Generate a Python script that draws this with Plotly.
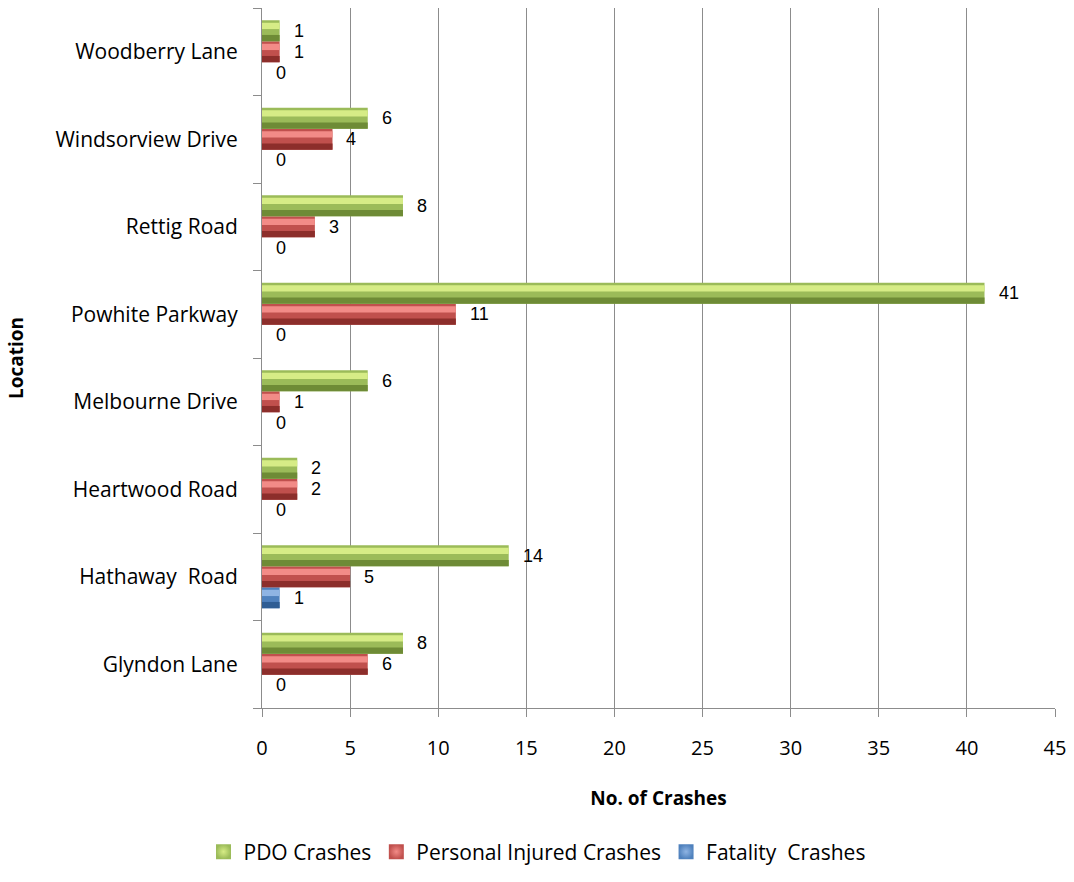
import plotly.graph_objects as go

# Crash counts by location (bottom to top on the y axis)
locations = ["Glyndon Lane", "Hathaway  Road", "Heartwood Road", "Melbourne Drive",
             "Powhite Parkway", "Rettig Road", "Windsorview Drive", "Woodberry Lane"]
pdo_crashes = [8, 14, 2, 6, 41, 8, 6, 1]
injury_crashes = [6, 5, 2, 1, 11, 3, 4, 1]
fatality_crashes = [0, 1, 0, 0, 0, 0, 0, 0]

series = [
    # name, values, mid colour, highlight, shadow, offset within category
    ("Fatality  Crashes", fatality_crashes, "#4f81bd", "#8fb4e3", "#2f5d94", -0.36),
    ("Personal Injured Crashes", injury_crashes, "#c0504d", "#f28b87", "#8c2e2b", -0.12),
    ("PDO Crashes", pdo_crashes, "#9bbb59", "#d6ec86", "#6e8b36", 0.12),
]
bar_w = 0.24
font_family = "Open Sans, Noto Sans, sans-serif"
label_family = "Liberation Sans, Arial, sans-serif"

fig = go.Figure()
annotations = []
for rank, (name, vals, mid, hi, lo, off) in enumerate(series):
    # main body of the bar
    fig.add_trace(go.Bar(
        name=name, x=vals, y=locations, orientation="h",
        width=bar_w, offset=off,
        marker=dict(color=mid, line=dict(width=0)),
        showlegend=False,
    ))
    # lower shading strip
    fig.add_trace(go.Bar(
        x=vals, y=locations, orientation="h",
        width=bar_w * 0.3, offset=off,
        marker=dict(color=lo, line=dict(width=0)),
        showlegend=False, hoverinfo="skip",
    ))
    # upper highlight strip
    fig.add_trace(go.Bar(
        x=vals, y=locations, orientation="h",
        width=bar_w * 0.3, offset=off + bar_w * 0.58,
        marker=dict(color=hi, line=dict(width=0)),
        showlegend=False, hoverinfo="skip",
    ))
    # shaded square legend key for the series
    fig.add_trace(go.Scatter(
        name=name, x=[None], y=[None], mode="markers",
        marker=dict(symbol="square", size=15, color=mid,
                    gradient=dict(type="radial", color=hi),
                    line=dict(width=0)),
        legendrank=3 - rank,
    ))
    # value labels to the right of each bar
    for i, v in enumerate(vals):
        annotations.append(dict(
            x=v, y=i + off + bar_w / 2, xref="x", yref="y",
            text=str(v), showarrow=False, xanchor="left", yanchor="middle",
            xshift=13, borderpad=0,
            font=dict(size=18, color="#000000", family=label_family),
        ))

fig.update_layout(
    barmode="overlay",
    width=1074, height=882,
    margin=dict(l=262, r=17, t=8, b=174),
    paper_bgcolor="white", plot_bgcolor="white",
    font=dict(family=font_family, color="#000000"),
    annotations=annotations,
    legend=dict(
        orientation="h", xref="container", x=0.5, xanchor="center",
        yref="container", y=1 - 852 / 882, yanchor="middle",
        font=dict(size=21), traceorder="normal",
    ),
    xaxis=dict(
        range=[0, 45], dtick=5, tick0=0,
        showgrid=True, gridcolor="#8c8c8c", gridwidth=1,
        showline=True, linecolor="#8c8c8c", linewidth=1,
        ticks="outside", ticklen=8, tickcolor="#8c8c8c",
        tickfont=dict(size=20), zeroline=False, ticklabelstandoff=14,
        title=dict(text="<b>No. of Crashes</b>", font=dict(size=19), standoff=31),
    ),
    yaxis=dict(
        type="category", categoryorder="array", categoryarray=locations,
        range=[-0.5, 7.5],
        showline=True, linecolor="#8c8c8c", linewidth=1,
        ticks="outside", ticklen=8, tickcolor="#8c8c8c", tickson="boundaries",
        showgrid=False, tickfont=dict(size=21), ticklabelstandoff=19,
        title=dict(text="<b>Location</b>", font=dict(size=19), standoff=26),
    ),
)

fig.write_html("out.html")
